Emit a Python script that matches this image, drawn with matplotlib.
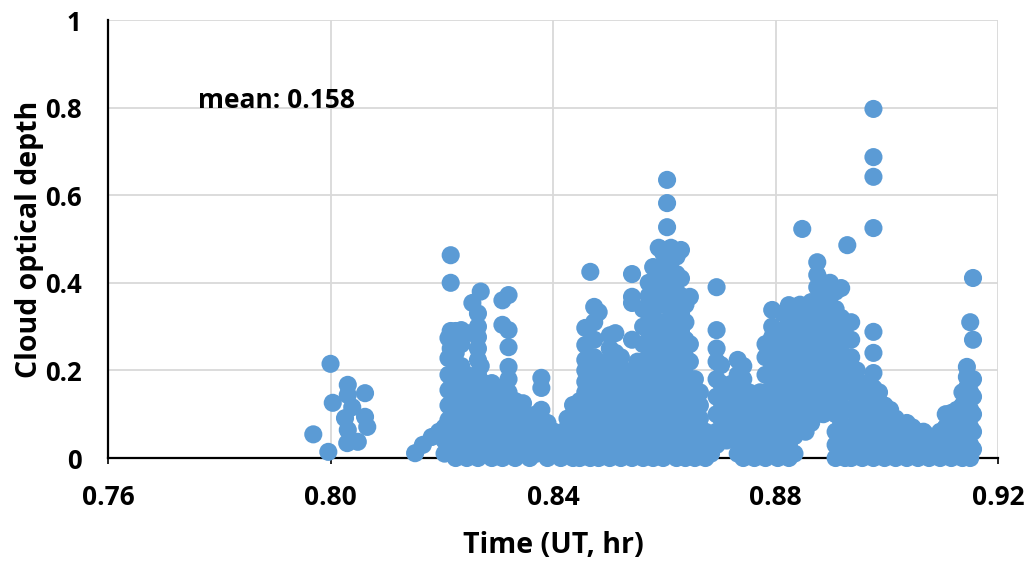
import matplotlib.pyplot as plt

# cloud optical depth samples, grouped by time column
# (time in UT hours, each column carries the depths plotted at that time)
first_time = [0.7969, 0.7996, 0.8000, 0.8004, 0.8026, 0.8031, 0.8031, 0.8031,
              0.8030, 0.8039, 0.8049, 0.8062, 0.8062, 0.8066,
              0.8152, 0.8166, 0.8182, 0.8195]
first_depth = [0.054, 0.014, 0.215, 0.126, 0.091, 0.167, 0.144, 0.064,
               0.034, 0.116, 0.037, 0.148, 0.094, 0.071,
               0.011, 0.030, 0.048, 0.060]

b_time = [0.8205, 0.8212, 0.8216, 0.8225, 0.8235, 0.8245, 0.8255, 0.8265,
          0.8270, 0.8278, 0.8290, 0.8300, 0.8309, 0.8320, 0.8332, 0.8346,
          0.8358, 0.8370, 0.8379, 0.8390, 0.8402, 0.8414, 0.8426, 0.8436]
b_depth = [
    [0.01, 0.04, 0.07],
    [0.02, 0.087, 0.12, 0.155, 0.19, 0.228, 0.274],
    [0.463, 0.40, 0.29, 0.25, 0.05, 0.16],
    [0.00, 0.03, 0.06, 0.10, 0.13, 0.17, 0.20, 0.24, 0.29],
    [0.01, 0.04, 0.08, 0.11, 0.15, 0.185, 0.21, 0.26, 0.292],
    [0.00, 0.03, 0.06, 0.09, 0.12, 0.16, 0.19, 0.285],
    [0.02, 0.05, 0.08, 0.11, 0.14, 0.17, 0.354],
    [0.00, 0.03, 0.06, 0.10, 0.13, 0.16, 0.19, 0.224, 0.25, 0.276, 0.30, 0.33],
    [0.38, 0.21],
    [0.01, 0.04, 0.07, 0.10, 0.14, 0.17],
    [0.00, 0.03, 0.06, 0.09, 0.12, 0.15, 0.171],
    [0.02, 0.05, 0.08, 0.11, 0.14],
    [0.00, 0.04, 0.07, 0.10, 0.13, 0.16, 0.304, 0.36],
    [0.01, 0.03, 0.06, 0.09, 0.12, 0.15, 0.18, 0.208, 0.253, 0.292, 0.372],
    [0.00, 0.03, 0.07, 0.10, 0.13],
    [0.01, 0.04, 0.08, 0.11, 0.125],
    [0.00, 0.03, 0.06, 0.09],
    [0.01, 0.04, 0.07, 0.10],
    [0.02, 0.06, 0.11, 0.16, 0.183],
    [0.00, 0.03, 0.06, 0.08],
    [0.01, 0.04, 0.06],
    [0.00, 0.03, 0.05],
    [0.01, 0.04, 0.07, 0.09],
    [0.00, 0.03, 0.06, 0.09, 0.121],
]

c_time = [0.8448, 0.8458, 0.8467, 0.8474, 0.8482, 0.8492, 0.8502, 0.8512,
          0.8522, 0.8532, 0.8542, 0.8552, 0.8562, 0.8572, 0.8580, 0.8590,
          0.8598, 0.8605, 0.8612, 0.8622, 0.8630, 0.8638, 0.8646, 0.8655,
          0.8664, 0.8674, 0.8684, 0.8694]
c_depth = [
    [0.00, 0.03, 0.06, 0.10, 0.13],
    [0.01, 0.05, 0.08, 0.12, 0.15, 0.174, 0.20, 0.224, 0.258, 0.297],
    [0.00, 0.03, 0.07, 0.10, 0.14, 0.425],
    [0.02, 0.05, 0.09, 0.12, 0.16, 0.19, 0.23, 0.27, 0.31, 0.345],
    [0.00, 0.04, 0.07, 0.11, 0.15, 0.18, 0.22, 0.333],
    [0.01, 0.03, 0.06, 0.09, 0.13, 0.17, 0.20],
    [0.00, 0.04, 0.08, 0.11, 0.14, 0.18, 0.22, 0.25, 0.28],
    [0.02, 0.05, 0.09, 0.12, 0.16, 0.20, 0.24, 0.285],
    [0.00, 0.03, 0.07, 0.10, 0.14, 0.17, 0.20, 0.23],
    [0.01, 0.05, 0.08, 0.12, 0.15, 0.19],
    [0.00, 0.03, 0.06, 0.10, 0.13, 0.17, 0.20, 0.27, 0.354, 0.368, 0.42],
    [0.02, 0.05, 0.09, 0.12, 0.16, 0.19, 0.22],
    [0.00, 0.04, 0.07, 0.11, 0.15, 0.18, 0.22, 0.26, 0.30, 0.34],
    [0.01, 0.03, 0.06, 0.10, 0.14, 0.18, 0.21, 0.25, 0.29, 0.33, 0.37, 0.40],
    [0.00, 0.05, 0.09, 0.13, 0.17, 0.21, 0.27, 0.32, 0.36, 0.436],
    [0.02, 0.04, 0.08, 0.12, 0.16, 0.20, 0.24, 0.28, 0.31, 0.35, 0.39, 0.42, 0.48],
    [0.00, 0.03, 0.07, 0.11, 0.15, 0.19, 0.23, 0.27, 0.31, 0.35, 0.38, 0.41, 0.468],
    [0.05, 0.13, 0.22, 0.30, 0.44, 0.527, 0.582, 0.635],
    [0.01, 0.04, 0.08, 0.12, 0.16, 0.20, 0.24, 0.28, 0.32, 0.36, 0.40, 0.43, 0.48],
    [0.00, 0.03, 0.06, 0.10, 0.14, 0.18, 0.22, 0.26, 0.30, 0.34, 0.38, 0.42, 0.46],
    [0.02, 0.05, 0.09, 0.13, 0.17, 0.21, 0.25, 0.29, 0.33, 0.37, 0.41, 0.475],
    [0.00, 0.04, 0.07, 0.11, 0.15, 0.19, 0.23, 0.27, 0.31, 0.35],
    [0.01, 0.03, 0.06, 0.10, 0.14, 0.18, 0.22, 0.26, 0.368],
    [0.00, 0.04, 0.08, 0.12, 0.15, 0.18],
    [0.02, 0.05, 0.09, 0.12, 0.15],
    [0.00, 0.03, 0.06],
    [0.01, 0.04],
    [0.03, 0.06, 0.10, 0.14, 0.18, 0.22, 0.25, 0.292, 0.39],
]

d_time = [0.8702, 0.8712, 0.8722, 0.8732, 0.8742, 0.8752, 0.8762, 0.8772,
          0.8782, 0.8794, 0.8804, 0.8814, 0.8824, 0.8834, 0.8844, 0.8848,
          0.8854, 0.8864, 0.8875, 0.8886, 0.8898, 0.8908, 0.8918, 0.8925,
          0.8929]
d_depth = [
    [0.05, 0.09, 0.13, 0.17, 0.212],
    [0.04, 0.08, 0.12, 0.16],
    [0.05, 0.09, 0.13, 0.17],
    [0.01, 0.04, 0.07, 0.11, 0.15, 0.19, 0.224],
    [0.00, 0.03, 0.06, 0.10, 0.14, 0.18, 0.21],
    [0.01, 0.04, 0.08, 0.12, 0.15],
    [0.00, 0.03, 0.06, 0.10, 0.13],
    [0.02, 0.05, 0.09, 0.12, 0.15],
    [0.00, 0.04, 0.07, 0.11, 0.15, 0.19, 0.23, 0.26],
    [0.01, 0.03, 0.06, 0.10, 0.14, 0.18, 0.22, 0.276, 0.30, 0.338],
    [0.00, 0.04, 0.08, 0.12, 0.16, 0.20, 0.24, 0.28],
    [0.02, 0.05, 0.09, 0.13, 0.17, 0.21, 0.25, 0.29, 0.33],
    [0.00, 0.03, 0.07, 0.11, 0.15, 0.19, 0.23, 0.27, 0.31, 0.349],
    [0.01, 0.05, 0.09, 0.13, 0.17, 0.21, 0.25, 0.29, 0.33],
    [0.07, 0.11, 0.15, 0.19, 0.23, 0.27, 0.31, 0.35],
    [0.523],
    [0.06, 0.10, 0.14, 0.18, 0.22, 0.26, 0.30, 0.34],
    [0.08, 0.12, 0.16, 0.20, 0.24, 0.28, 0.32, 0.356],
    [0.10, 0.14, 0.18, 0.22, 0.26, 0.30, 0.34, 0.39, 0.418, 0.447],
    [0.10, 0.13, 0.17, 0.21, 0.25, 0.29, 0.33, 0.37, 0.40],
    [0.11, 0.15, 0.19, 0.23, 0.27, 0.31, 0.35, 0.40],
    [0.00, 0.03, 0.06, 0.10, 0.14, 0.18, 0.22, 0.26, 0.30, 0.34, 0.38],
    [0.01, 0.04, 0.08, 0.12, 0.16, 0.20, 0.24, 0.28, 0.32, 0.388],
    [0.00, 0.05, 0.224, 0.30],
    [0.486],
]

e_time = [0.8936, 0.8946, 0.8956, 0.8966, 0.8976, 0.8986, 0.8996, 0.9006,
          0.9016, 0.9026, 0.9036, 0.9046, 0.9056, 0.9066, 0.9076, 0.9086,
          0.9096, 0.9106, 0.9116, 0.9126, 0.9136, 0.9144, 0.9150, 0.9155]
e_depth = [
    [0.00, 0.03, 0.07, 0.11, 0.15, 0.19, 0.23, 0.27, 0.31],
    [0.01, 0.04, 0.08, 0.12, 0.16, 0.20],
    [0.00, 0.03, 0.06, 0.10, 0.14, 0.17],
    [0.02, 0.05, 0.09, 0.13, 0.16],
    [0.00, 0.04, 0.08, 0.12, 0.16, 0.194, 0.24, 0.288, 0.525, 0.642, 0.687, 0.797],
    [0.01, 0.03, 0.07, 0.11, 0.15],
    [0.00, 0.04, 0.08, 0.12],
    [0.02, 0.05, 0.09, 0.11],
    [0.00, 0.03, 0.06, 0.09],
    [0.01, 0.04, 0.07],
    [0.00, 0.03, 0.06, 0.08],
    [0.02, 0.05, 0.07],
    [0.00, 0.03, 0.06],
    [0.01, 0.04, 0.06],
    [0.00, 0.03, 0.05],
    [0.02, 0.04],
    [0.00, 0.03, 0.06],
    [0.01, 0.04, 0.07, 0.10],
    [0.00, 0.03, 0.06, 0.09, 0.103],
    [0.02, 0.05, 0.08, 0.11],
    [0.00, 0.03, 0.06, 0.09, 0.12, 0.15],
    [0.01, 0.04, 0.08, 0.12, 0.16, 0.185, 0.208],
    [0.00, 0.03, 0.07, 0.11, 0.15, 0.31],
    [0.02, 0.06, 0.10, 0.14, 0.18, 0.27, 0.411],
]

x_ticks = [0.76, 0.80, 0.84, 0.88, 0.92]
x_labels = ['0.76', '0.80', '0.84', '0.88', '0.92']
y_ticks = [0, 0.2, 0.4, 0.6, 0.8, 1]
y_labels = ['0', '0.2', '0.4', '0.6', '0.8', '1']
mean_text = 'mean: 0.158'

# flatten the columns into one series
times = list(first_time)
depths = list(first_depth)
for cols_t, cols_d in [(b_time, b_depth), (c_time, c_depth),
                       (d_time, d_depth), (e_time, e_depth)]:
    for t, ds in zip(cols_t, cols_d):
        for d in ds:
            times.append(t)
            depths.append(d)

plt.rcParams['font.family'] = ['Open Sans', 'DejaVu Sans']
plt.rcParams['font.weight'] = 'bold'

fig = plt.figure(figsize=(10.27, 5.61), dpi=100)
ax = fig.add_axes([0.1052, 0.1836, 0.8666, 0.7807])

ax.scatter(times, depths, s=170, color='#5B9BD5', edgecolors='none',
           zorder=3, clip_on=False)

ax.set_xlim(0.76, 0.92)
ax.set_ylim(0, 1)
ax.set_xticks(x_ticks)
ax.set_xticklabels(x_labels, fontsize=19, fontweight='bold')
ax.set_yticks(y_ticks)
ax.set_yticklabels(y_labels, fontsize=18.5, fontweight='bold')
ax.tick_params(axis='x', length=4, width=1.2, direction='out', pad=15)
ax.tick_params(axis='y', length=0, pad=19)

ax.grid(True, color='#D9D9D9', linewidth=1.3, zorder=0)
ax.set_axisbelow(True)
for side in ['top', 'right']:
    ax.spines[side].set_visible(False)
ax.spines['left'].set_linewidth(1.6)
ax.spines['bottom'].set_linewidth(1.6)
ax.spines['bottom'].set_zorder(2)

ax.set_xlabel('Time (UT, hr)', fontsize=20.5, fontweight='bold', labelpad=14)
ax.set_ylabel('Cloud optical depth', fontsize=20.5, fontweight='bold', labelpad=1)

ax.text(0.7762, 0.817, mean_text, fontsize=19, fontweight='bold',
        ha='left', va='center')

fig.savefig('out.png', dpi=100)
